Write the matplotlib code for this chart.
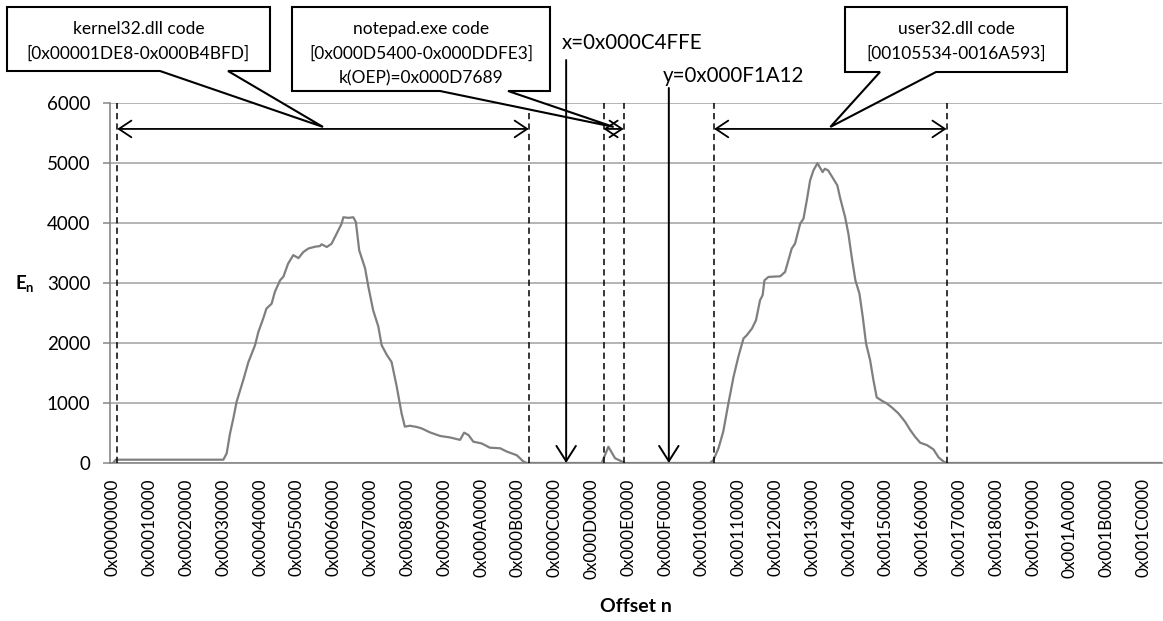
import matplotlib
matplotlib.use("Agg")
import matplotlib.pyplot as plt
from matplotlib.patches import Polygon, FancyArrowPatch
from matplotlib.transforms import IdentityTransform
import numpy as np

plt.rcParams['font.family'] = ['Lato', 'DejaVu Sans']
plt.rcParams['mathtext.fontset'] = 'custom'
plt.rcParams['mathtext.rm'] = 'Lato'
plt.rcParams['mathtext.bf'] = 'Lato:bold'
plt.rcParams['mathtext.it'] = 'Lato:italic'
plt.rcParams['lines.scale_dashes'] = False

SEG = 0x10000  # one x-tick step

# ---- data: offset (in units of 0x10000) and energy E_n ----
offset_64k = [0.00, 0.08, 3.00, 3.09, 3.18, 3.27, 3.36, 3.54, 3.68, 3.86,
              3.95, 4.08, 4.17, 4.31, 4.40, 4.54, 4.63, 4.76, 4.90, 5.04,
              5.17, 5.31, 5.49, 5.62, 5.67, 5.81, 5.94, 6.08, 6.21, 6.26,
              6.40, 6.53, 6.60, 6.69, 6.85, 6.94, 7.07, 7.21, 7.30, 7.44,
              7.57, 7.71, 7.84, 7.93, 8.07, 8.25, 8.39, 8.61, 8.89, 9.16,
              9.43, 9.54, 9.66, 9.79, 10.02, 10.24, 10.52, 10.70, 10.97, 11.15,
              11.25,
              13.28, 13.46, 13.64, 13.91,
              16.22, 16.31, 16.45, 16.58, 16.72, 16.86, 16.99, 17.13, 17.22, 17.36,
              17.47, 17.58, 17.65, 17.70, 17.81, 18.13, 18.26, 18.35, 18.44, 18.53,
              18.67, 18.76, 18.85, 18.94, 19.03, 19.14, 19.21, 19.28, 19.34, 19.43,
              19.57, 19.68, 19.75, 19.89, 19.98, 20.07, 20.17, 20.28, 20.37, 20.46,
              20.57, 20.66, 20.75, 20.89, 21.02, 21.16, 21.34, 21.52, 21.66, 21.79,
              21.93, 22.11, 22.29, 22.43, 22.57, 22.66,
              28.50]
energy = [0, 55, 55, 160, 490, 740, 1020, 1380, 1680, 1960,
          2180, 2400, 2570, 2650, 2850, 3040, 3100, 3320, 3460, 3410,
          3510, 3570, 3600, 3610, 3640, 3595, 3650, 3820, 3980, 4090,
          4080, 4090, 4010, 3540, 3240, 2930, 2540, 2270, 1960, 1800,
          1680, 1270, 830, 605, 620, 600, 575, 510, 450, 425,
          385, 505, 465, 355, 325, 255, 245, 190, 130, 25,
          0,
          0, 270, 80, 0,
          0, 44, 244, 521, 992, 1435, 1767, 2072, 2127, 2238,
          2377, 2709, 2792, 3041, 3097, 3108, 3180, 3374, 3568, 3651,
          3983, 4066, 4371, 4703, 4870, 4991, 4914, 4842, 4897, 4870,
          4731, 4620, 4426, 4094, 3817, 3429, 3041, 2820, 2432, 1989,
          1712, 1380, 1092, 1036, 992, 925, 825, 687, 549, 438,
          338, 299, 227, 94, 22, 0,
          0]

x_tick_values = [i * SEG for i in range(29)]
x_tick_labels = [f"0x{v:08X}" for v in x_tick_values]
y_tick_values = [0, 1000, 2000, 3000, 4000, 5000, 6000]

# code regions
region_names = ["kernel32", "notepad", "user32"]
region_start = [0x00001DE8, 0x000D5400, 0x00105534]
region_end = [0x000B4BFD, 0x000DDFE3, 0x0016A593]
region_texts = ["kernel32.dll code\n[0x00001DE8-0x000B4BFD]",
                "notepad.exe code\n[0x000D5400-0x000DDFE3]\nk(OEP)=0x000D7689",
                "user32.dll code\n[00105534-0016A593]"]
marker_x = 0x000C4FFE
marker_y = 0x000F1A12
marker_texts = ["x=0x000C4FFE", "y=0x000F1A12"]
range_arrow_level = 5560

# ---- figure ----
W, H = 1163, 621
fig = plt.figure(figsize=(W / 100, H / 100), dpi=100)
ax = fig.add_axes([110 / W, (H - 463) / H, (1162 - 110) / W, (463 - 102.5) / H])

GRID = '#a0a0a0'
AXC = '#868686'
ax.set_xlim(-0.08 * SEG, 28.5 * SEG)
ax.set_ylim(0, 6000)
ax.set_yticks(y_tick_values)
ax.set_xticks(x_tick_values)
ax.set_xticklabels(x_tick_labels, rotation=90, fontsize=12.3)
ax.tick_params(axis='y', labelsize=13.5, length=5, width=1.1, color=AXC, pad=9)
ax.tick_params(axis='x', length=0, pad=11)
for s in ['top', 'right']:
    ax.spines[s].set_visible(False)
for s in ['left', 'bottom']:
    ax.spines[s].set_color(AXC)
    ax.spines[s].set_linewidth(1.2)
ax.yaxis.grid(True, color=GRID, linewidth=1.1)
ax.set_axisbelow(True)

ax.plot(np.array(offset_64k) * SEG, energy, color='#7f7f7f', linewidth=1.6, zorder=3)

# dashed region borders and double arrows
for s, e in zip(region_start, region_end):
    ax.vlines([s, e], 0, 6000, colors='black', linestyles=(0, (4.5, 3)), linewidth=1.1, zorder=4)
    ax.annotate('', xy=(e, range_arrow_level), xytext=(s, range_arrow_level),
                arrowprops=dict(arrowstyle='<->,head_length=0.45,head_width=0.3',
                                color='black', lw=1.3, shrinkA=0, shrinkB=0,
                                mutation_scale=20), zorder=4)

fig.canvas.draw()

# callouts (box in pixels, wedge base in pixels, tip at middle of range arrow)
boxes = [(7, 7, 270, 71), (292, 7, 550, 91), (845, 7, 1067, 72)]
bases = [(160, 228), (440, 508), (880, 936)]
line_y = [29, 54, 78]
for (x0, y0, x1, y1), (b0, b1), s, e, txt in zip(boxes, bases, region_start, region_end, region_texts):
    tip = ax.transData.transform(((s + e) / 2, range_arrow_level))
    pts = [(x0, H - y0), (x1, H - y0), (x1, H - y1), (b1, H - y1), (tip[0], tip[1] + 2),
           (b0, H - y1), (x0, H - y1)]
    ax.add_patch(Polygon(pts, closed=True, facecolor='white', edgecolor='black',
                         linewidth=1.5, transform=IdentityTransform(), clip_on=False, zorder=5))
    for k, line in enumerate(txt.split('\n')):
        fig.text((x0 + x1) / 2 / W, 1 - line_y[k] / H, line, ha='center', va='center',
                 fontsize=12.5, zorder=6)

# x / y markers
for mx, top_px, label, tx, ty in zip([marker_x, marker_y], [60, 88], marker_texts,
                                      [562, 663], [43, 76]):
    p0 = ax.transData.transform((mx, 0))
    arr = FancyArrowPatch((p0[0], H - top_px), (p0[0], p0[1]),
                          arrowstyle='->,head_length=0.55,head_width=0.35',
                          mutation_scale=20, color='black', lw=1.4,
                          shrinkA=0, shrinkB=0, transform=IdentityTransform(),
                          clip_on=False, zorder=7)
    ax.add_patch(arr)
    fig.text(tx / W, 1 - ty / H, label, ha='left', va='center', fontsize=14.8, zorder=8)

fig.text(25 / W, 1 - 283 / H, r'$\mathbf{E}_{\mathbf{n}}$', ha='center', va='center', fontsize=13.5)
fig.text(636 / W, 1 - 607 / H, 'Offset n', ha='center', va='center', fontsize=14,
         fontweight='bold')

fig.savefig('out.png', dpi=100)
